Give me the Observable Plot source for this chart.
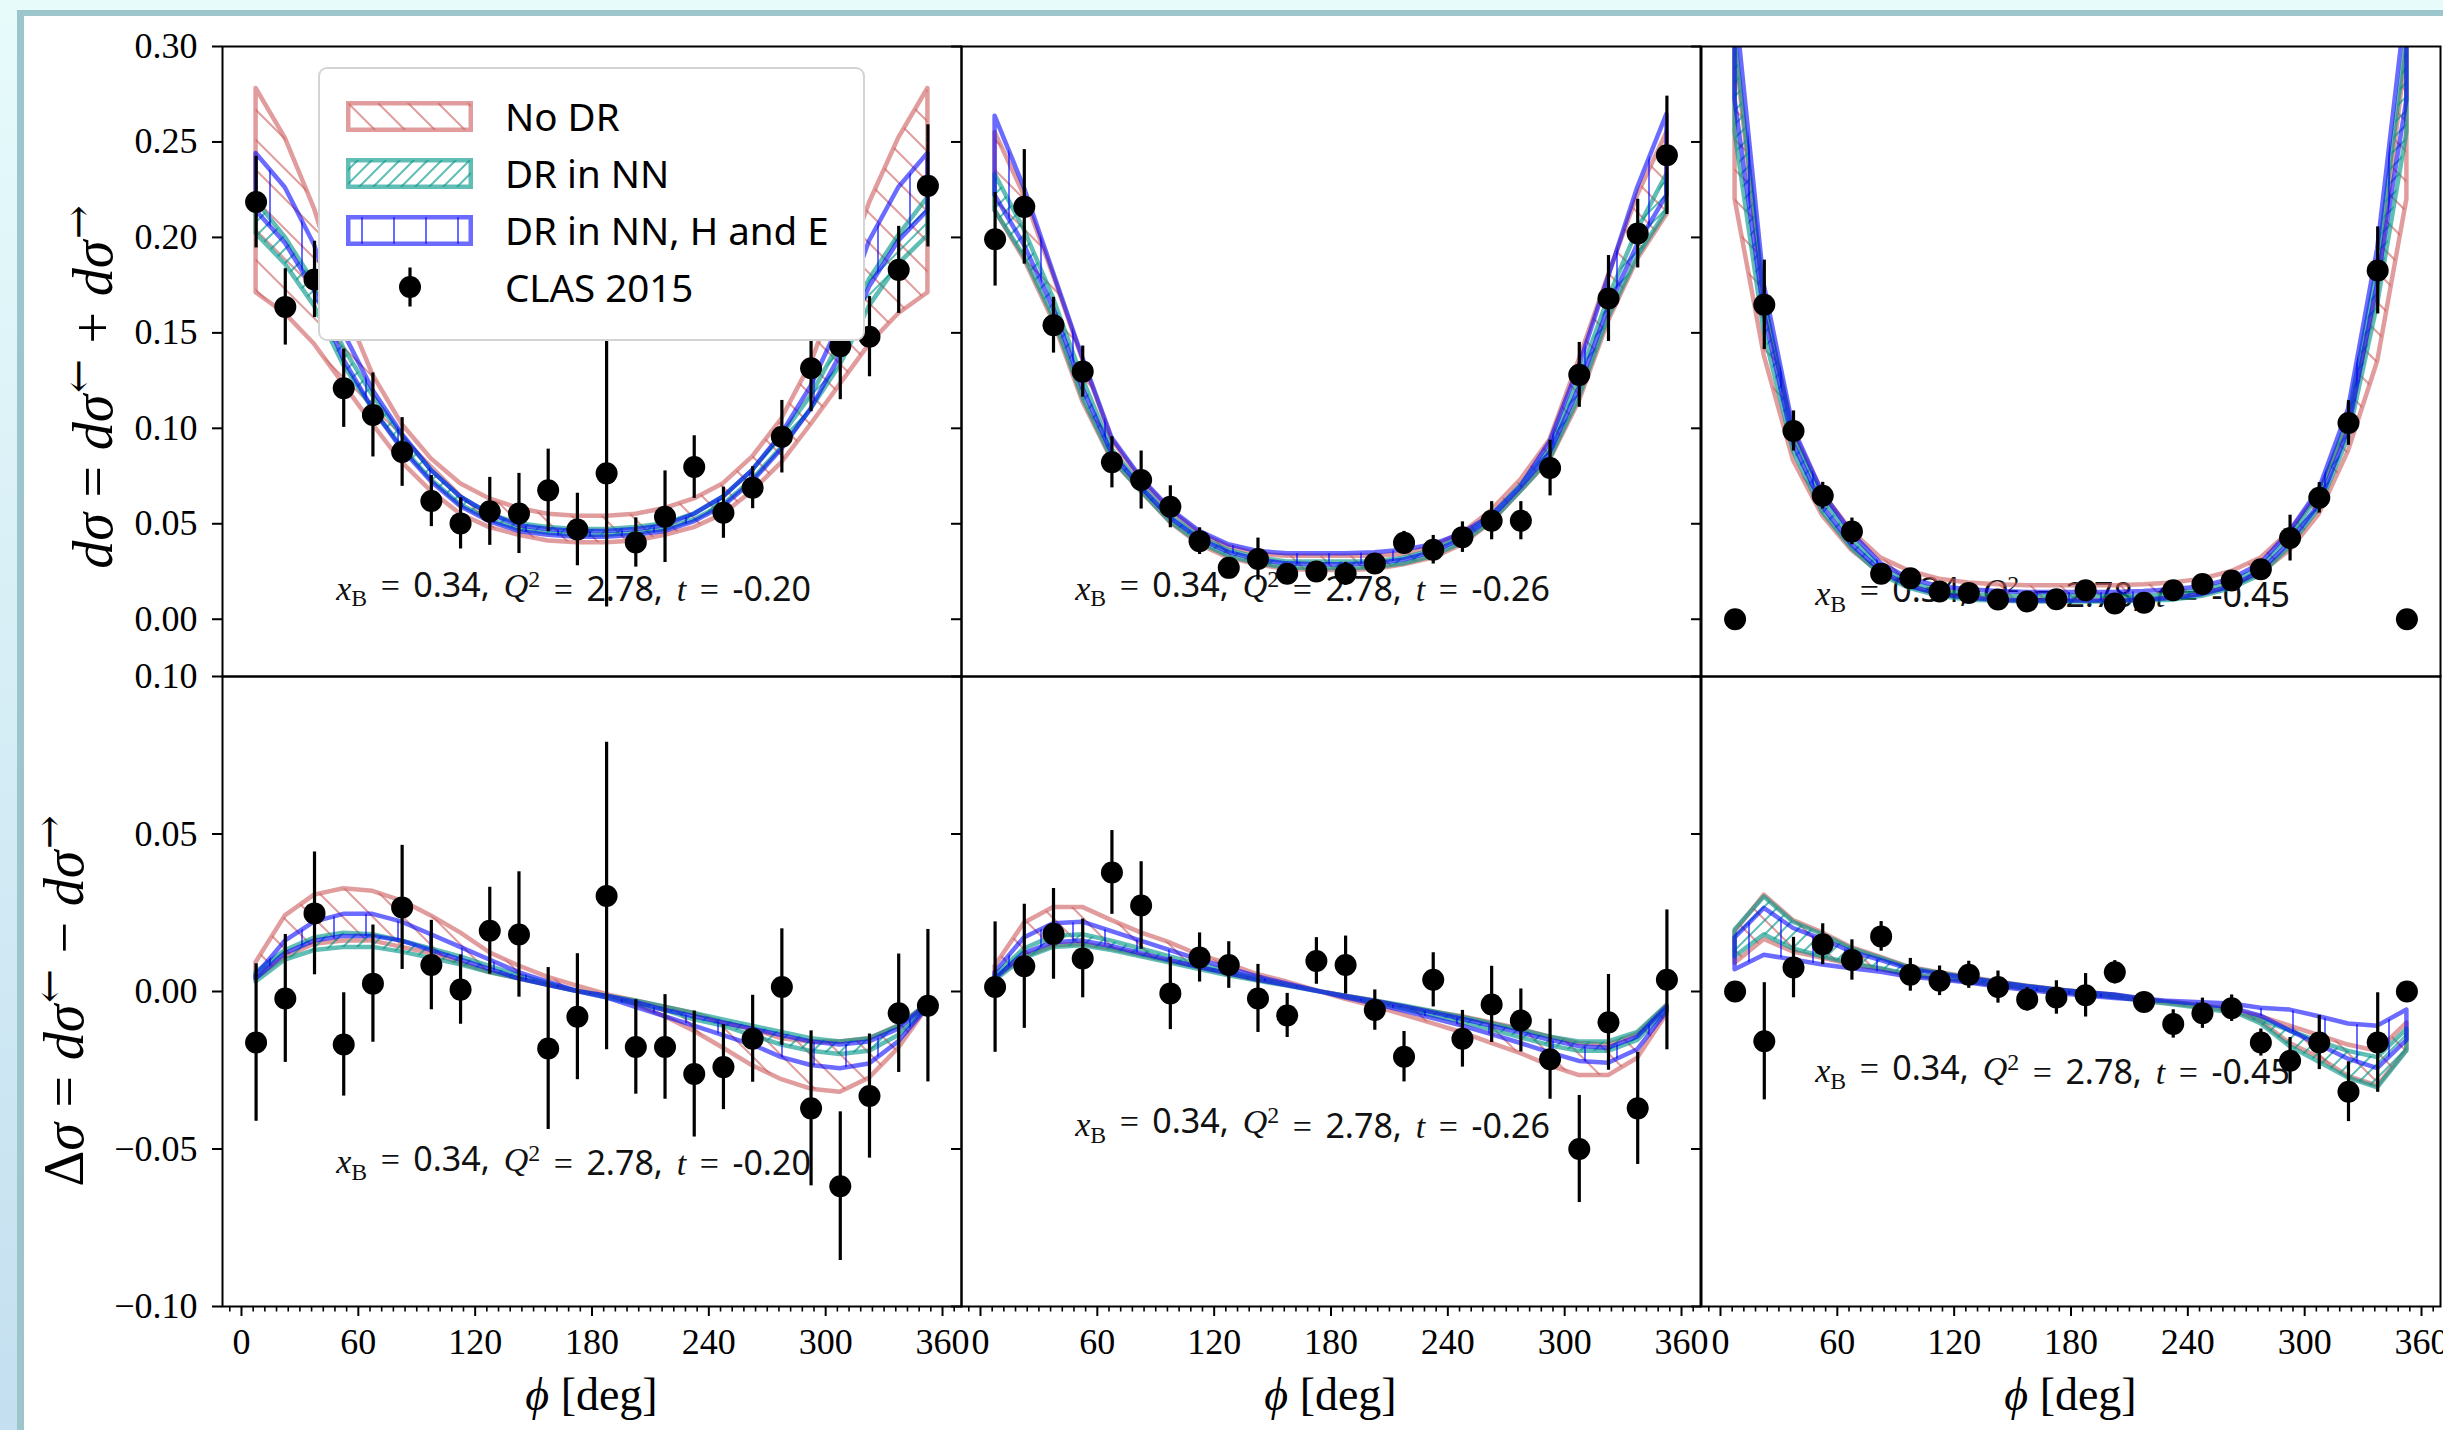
<!DOCTYPE html>
<html>
<head>
<meta charset="utf-8">
<script src="https://cdn.jsdelivr.net/npm/d3@7"></script>
<script src="https://cdn.jsdelivr.net/npm/@observablehq/plot@0.6"></script>
<style>
  html, body { margin: 0; padding: 0; }
  body { width: 2443px; height: 1430px; overflow: hidden; position: relative; background: #e7fbfb; font-family: "Liberation Serif", serif; color: #000; }
  #strip { position: absolute; left: 0; top: 0; width: 17px; height: 1430px; background: linear-gradient(#e7fbfb, #c4dff0); }
  #sheet { position: absolute; left: 17px; top: 10px; right: 0; bottom: 0; background: #fff; border-top: 6px solid #9dc5cc; border-left: 7px solid #9dc5cc; }
  .panel { position: absolute; width: 739px; height: 630px; z-index: 1; }
  .panel svg { overflow: visible; max-width: none; }
  .ylabel { position: absolute; transform: translate(-50%, -50%) rotate(-90deg); white-space: nowrap; font-size: 56px; line-height: 1; z-index: 2; }
  .xlabel { position: absolute; transform: translate(-50%, -50%); white-space: nowrap; font-size: 46px; line-height: 1; z-index: 2; }
  .ylabel sup { font-size: 0.72em; vertical-align: 0.5em; line-height: 0; font-family: "DejaVu Serif", serif; margin-left: 0.04em; }
  .ylabel .op { display: inline-block; margin: 0 0.28em; }
  #legend { position: absolute; left: 318px; top: 67px; width: 543px; height: 270px; background: #fff; border: 2px solid #d4d4d4; border-radius: 9px; z-index: 3; font-family: "Noto Sans", sans-serif; font-size: 38.5px; }
  .lrow { position: absolute; left: 0; height: 40px; display: flex; align-items: center; }
  .lrow svg { position: absolute; left: 26px; overflow: visible; }
  .lrow span { position: absolute; left: 185px; white-space: nowrap; line-height: 1; }
</style>
</head>
<body>
<svg width="0" height="0" style="position:absolute">
  <defs>
    <pattern id="hatch-nodr" patternUnits="userSpaceOnUse" width="30" height="30">
      <path d="M-5,-5 L35,35 M-5,25 L5,35 M25,-5 L35,5" stroke="rgb(205,92,92)" stroke-opacity="0.6" stroke-width="2" fill="none"/>
    </pattern>
    <pattern id="hatch-nn" patternUnits="userSpaceOnUse" width="14" height="14">
      <path d="M-3,17 L17,-3 M-3,3 L3,-3 M11,17 L17,11" stroke="rgb(0,150,136)" stroke-opacity="0.62" stroke-width="2" fill="none"/>
    </pattern>
    <pattern id="hatch-he" patternUnits="userSpaceOnUse" width="32" height="32">
      <path d="M16,0 V32" stroke="rgb(0,0,255)" stroke-opacity="0.58" stroke-width="2" fill="none"/>
    </pattern>
  </defs>
</svg>
<div id="strip"></div>
<div id="sheet"></div>
<div id="charts"></div>
<div id="legend"></div>
<script>
// Azimuthal bins of the CLAS 2015 DVCS measurement (degrees)
const phi = [7.5, 22.5, 37.5, 52.5, 67.5, 82.5, 97.5, 112.5, 127.5, 142.5, 157.5, 172.5,
             187.5, 202.5, 217.5, 232.5, 247.5, 262.5, 277.5, 292.5, 307.5, 322.5, 337.5, 352.5];

const xTicks = [0, 60, 120, 180, 240, 300, 360];
const sumTicks = [0, 0.05, 0.10, 0.15, 0.20, 0.25, 0.30];
const diffTicks = [-0.10, -0.05, 0, 0.05, 0.10];
const xBValue = 0.34;
const Q2Value = 2.78;
const tBins = [-0.20, -0.26, -0.45];

const modelNames = ["No DR", "DR in NN", "DR in NN, H and E"];
const modelColors = ["rgb(205,92,92)", "rgb(0,150,136)", "rgb(0,0,255)"];
const modelOpacity = [0.6, 0.62, 0.58];
const modelPatterns = ["hatch-nodr", "hatch-nn", "hatch-he"];

// ---- dσ = dσ← + dσ→ , t = -0.20
const sum020 = [0.2185, 0.1636, 0.178, 0.121, 0.107, 0.0876, 0.0619, 0.0502, 0.0565, 0.0554, 0.0675, 0.047,
                0.0764, 0.0402, 0.0537, 0.0797, 0.0558, 0.0689, 0.0956, 0.1315, 0.143, 0.148, 0.183, 0.227];
const sum020Err = [0.024, 0.020, 0.020, 0.0205, 0.022, 0.018, 0.0134, 0.0134, 0.0178, 0.021, 0.0216, 0.019,
                   0.070, 0.0129, 0.024, 0.0164, 0.0134, 0.011, 0.019, 0.0228, 0.028, 0.021, 0.0228, 0.032];
const sum020NoDRHi = [0.278, 0.252, 0.215, 0.165, 0.128, 0.102, 0.084, 0.071, 0.063, 0.058, 0.055, 0.054,
                      0.054, 0.055, 0.058, 0.063, 0.071, 0.085, 0.105, 0.134, 0.175, 0.218, 0.252, 0.278];
const sum020NoDRLo = [0.171, 0.160, 0.144, 0.123, 0.102, 0.082, 0.067, 0.055, 0.048, 0.044, 0.041, 0.040,
                      0.040, 0.041, 0.044, 0.048, 0.055, 0.067, 0.082, 0.102, 0.123, 0.144, 0.160, 0.171];
const sum020NNHi = [0.219, 0.200, 0.176, 0.142, 0.117, 0.096, 0.078, 0.064, 0.055, 0.050, 0.048, 0.047,
                    0.047, 0.048, 0.050, 0.055, 0.064, 0.078, 0.096, 0.117, 0.145, 0.178, 0.201, 0.221];
const sum020NNLo = [0.202, 0.186, 0.164, 0.133, 0.110, 0.090, 0.073, 0.060, 0.052, 0.047, 0.045, 0.044,
                    0.044, 0.045, 0.047, 0.052, 0.060, 0.073, 0.090, 0.110, 0.133, 0.164, 0.186, 0.201];
const sum020HEHi = [0.244, 0.226, 0.196, 0.150, 0.120, 0.097, 0.078, 0.064, 0.055, 0.049, 0.047, 0.046,
                    0.046, 0.047, 0.049, 0.055, 0.064, 0.078, 0.097, 0.122, 0.155, 0.198, 0.226, 0.244];
const sum020HELo = [0.214, 0.197, 0.172, 0.136, 0.110, 0.089, 0.072, 0.059, 0.051, 0.046, 0.044, 0.043,
                    0.043, 0.044, 0.046, 0.051, 0.059, 0.072, 0.089, 0.110, 0.138, 0.174, 0.198, 0.214];

// ---- dσ = dσ← + dσ→ , t = -0.26
const sum026 = [0.199, 0.216, 0.154, 0.1297, 0.0822, 0.0729, 0.0589, 0.0409, 0.0269, 0.0315, 0.0238, 0.025,
                0.0238, 0.0292, 0.040, 0.0364, 0.043, 0.0516, 0.0516, 0.0792, 0.128, 0.168, 0.202, 0.243];
const sum026Err = [0.0245, 0.030, 0.0146, 0.0134, 0.0134, 0.0152, 0.011, 0.007, 0.004, 0.011, 0.005, 0.005,
                   0.006, 0.005, 0.006, 0.0075, 0.008, 0.010, 0.010, 0.0146, 0.017, 0.0225, 0.018, 0.031];
const sum026NoDRHi = [0.255, 0.222, 0.180, 0.136, 0.094, 0.073, 0.057, 0.045, 0.038, 0.034, 0.033, 0.033,
                      0.033, 0.033, 0.034, 0.038, 0.045, 0.057, 0.073, 0.094, 0.136, 0.180, 0.222, 0.255];
const sum026NoDRLo = [0.214, 0.1885, 0.156, 0.114, 0.0834, 0.067, 0.0507, 0.039, 0.032, 0.0285, 0.026, 0.0255,
                      0.0255, 0.026, 0.0285, 0.032, 0.039, 0.0507, 0.067, 0.0834, 0.114, 0.156, 0.1885, 0.212];
const sum026NNHi = [0.233, 0.204, 0.168, 0.126, 0.089, 0.070, 0.054, 0.043, 0.036, 0.032, 0.030, 0.030,
                    0.030, 0.030, 0.032, 0.036, 0.043, 0.054, 0.070, 0.089, 0.126, 0.168, 0.204, 0.233];
const sum026NNLo = [0.214, 0.190, 0.158, 0.116, 0.084, 0.067, 0.051, 0.040, 0.033, 0.029, 0.027, 0.0265,
                    0.0265, 0.027, 0.029, 0.033, 0.040, 0.051, 0.067, 0.084, 0.116, 0.158, 0.190, 0.214];
const sum026HEHi = [0.2635, 0.226, 0.1815, 0.137, 0.095, 0.074, 0.0577, 0.046, 0.039, 0.0355, 0.0343, 0.0343,
                    0.0343, 0.0348, 0.0362, 0.039, 0.0449, 0.0542, 0.0694, 0.0928, 0.1325, 0.179, 0.226, 0.2645];
const sum026HELo = [0.222, 0.196, 0.163, 0.121, 0.087, 0.069, 0.053, 0.042, 0.035, 0.031, 0.029, 0.0285,
                    0.0285, 0.029, 0.031, 0.035, 0.042, 0.053, 0.069, 0.087, 0.121, 0.163, 0.196, 0.222];

// ---- dσ = dσ← + dσ→ , t = -0.45
const sum045 = [0.0, 0.1647, 0.0986, 0.0647, 0.046, 0.0238, 0.0215, 0.0145, 0.0138, 0.0103, 0.0093, 0.0105,
                0.0152, 0.0082, 0.0086, 0.0152, 0.0185, 0.0203, 0.0262, 0.0425, 0.0636, 0.1028, 0.1827, 0.0];
const sum045Err = [0, 0.0234, 0.0105, 0.007, 0.007, 0.003, 0.003, 0.003, 0.003, 0.003, 0.003, 0.003,
                   0.003, 0.003, 0.003, 0.003, 0.003, 0.004, 0.004, 0.012, 0.008, 0.0117, 0.0228, 0];
const sum045NoDRHi = [0.300, 0.165, 0.098, 0.066, 0.046, 0.032, 0.025, 0.021, 0.019, 0.018, 0.0175, 0.0175,
                      0.0175, 0.0175, 0.018, 0.019, 0.021, 0.025, 0.032, 0.046, 0.066, 0.102, 0.172, 0.300];
const sum045NoDRLo = [0.220, 0.138, 0.083, 0.054, 0.036, 0.024, 0.017, 0.013, 0.011, 0.010, 0.0095, 0.0095,
                      0.0095, 0.0095, 0.010, 0.011, 0.013, 0.017, 0.024, 0.036, 0.055, 0.088, 0.135, 0.220];
const sum045NNHi = [0.305, 0.168, 0.096, 0.063, 0.042, 0.027, 0.019, 0.015, 0.013, 0.012, 0.012, 0.012,
                    0.012, 0.012, 0.012, 0.013, 0.015, 0.019, 0.027, 0.043, 0.065, 0.105, 0.185, 0.305];
const sum045NNLo = [0.255, 0.150, 0.088, 0.056, 0.037, 0.023, 0.016, 0.012, 0.010, 0.0095, 0.009, 0.009,
                    0.009, 0.009, 0.0095, 0.010, 0.012, 0.016, 0.023, 0.038, 0.058, 0.095, 0.165, 0.255];
const sum045HEHi = [0.325, 0.175, 0.100, 0.066, 0.045, 0.029, 0.021, 0.017, 0.0155, 0.0145, 0.014, 0.014,
                    0.014, 0.014, 0.0145, 0.0155, 0.017, 0.021, 0.029, 0.046, 0.068, 0.110, 0.194, 0.325];
const sum045HELo = [0.272, 0.160, 0.092, 0.059, 0.039, 0.025, 0.017, 0.013, 0.011, 0.010, 0.0095, 0.0095,
                    0.0095, 0.0095, 0.010, 0.011, 0.013, 0.017, 0.025, 0.040, 0.060, 0.099, 0.176, 0.272];

// ---- Δσ = dσ← − dσ→ , t = -0.20
const diff020 = [-0.0162, -0.0022, 0.0248, -0.0168, 0.0025, 0.0267, 0.0084, 0.0006, 0.0193, 0.0181, -0.0181, -0.008,
                 0.0303, -0.0176, -0.0176, -0.0262, -0.024, -0.015, 0.0014, -0.0371, -0.0618, -0.0332, -0.0069, -0.0045];
const diff020Err = [0.025, 0.0203, 0.0195, 0.0164, 0.0186, 0.0197, 0.0142, 0.011, 0.0138, 0.0199, 0.0257, 0.020,
                    0.0488, 0.015, 0.0166, 0.020, 0.0135, 0.0138, 0.0185, 0.0246, 0.0236, 0.0197, 0.0188, 0.0242];
const diff020NoDRA = [0.0092, 0.024, 0.0306, 0.0326, 0.0318, 0.0287, 0.024, 0.0186, 0.0123, 0.0081, 0.0045, 0.0017,
                      -0.0009, -0.004, -0.008, -0.0126, -0.018, -0.0236, -0.028, -0.031, -0.032, -0.0275, -0.018, -0.005];
const diff020NoDRB = [0.004, 0.011, 0.015, 0.016, 0.016, 0.014, 0.012, 0.009, 0.006, 0.004, 0.002, 0.000,
                      -0.001, -0.003, -0.005, -0.007, -0.010, -0.012, -0.015, -0.016, -0.016, -0.015, -0.011, -0.004];
const diff020NNA = [0.006, 0.013, 0.017, 0.0185, 0.018, 0.016, 0.0135, 0.011, 0.008, 0.005, 0.0025, 0.0,
                    -0.002, -0.004, -0.006, -0.009, -0.011, -0.014, -0.017, -0.019, -0.020, -0.019, -0.014, -0.005];
const diff020NNB = [0.003, 0.010, 0.013, 0.014, 0.014, 0.0125, 0.0105, 0.0085, 0.006, 0.004, 0.002, 0.0,
                    -0.0015, -0.003, -0.005, -0.007, -0.009, -0.011, -0.013, -0.015, -0.016, -0.015, -0.011, -0.004];
const diff020HEA = [0.005, 0.016, 0.022, 0.0245, 0.0245, 0.022, 0.018, 0.014, 0.010, 0.006, 0.003, 0.0,
                    -0.002, -0.005, -0.008, -0.011, -0.014, -0.017, -0.021, -0.0235, -0.0245, -0.023, -0.016, -0.005];
const diff020HEB = [0.004, 0.012, 0.016, 0.0175, 0.0175, 0.016, 0.013, 0.010, 0.007, 0.004, 0.002, 0.0,
                    -0.0015, -0.0035, -0.006, -0.008, -0.010, -0.012, -0.014, -0.016, -0.017, -0.016, -0.012, -0.004];

// ---- Δσ = dσ← − dσ→ , t = -0.26
const diff026 = [0.0014, 0.008, 0.0183, 0.0105, 0.0378, 0.0273, -0.0006, 0.0108, 0.0084, -0.0022, -0.0076, 0.0097,
                 0.0084, -0.0059, -0.0207, 0.0037, -0.015, -0.0041, -0.0092, -0.0215, -0.050, -0.0098, -0.0371, 0.0037];
const diff026Err = [0.0207, 0.0197, 0.0144, 0.0125, 0.0133, 0.0139, 0.0115, 0.0078, 0.0074, 0.0108, 0.007, 0.0074,
                    0.0092, 0.0064, 0.008, 0.0086, 0.009, 0.0121, 0.010, 0.0127, 0.017, 0.0152, 0.0178, 0.0222];
const diff026NoDRA = [0.008, 0.0217, 0.0267, 0.0267, 0.0225, 0.0186, 0.0154, 0.0115, 0.0087, 0.0053, 0.003, 0.0003,
                      -0.0025, -0.0048, -0.0075, -0.0103, -0.0131, -0.0165, -0.0197, -0.0236, -0.0267, -0.0267, -0.0212, -0.0072];
const diff026NoDRB = [0.004, 0.011, 0.0145, 0.015, 0.0135, 0.0115, 0.0095, 0.0075, 0.0055, 0.0035, 0.002, 0.0002,
                      -0.0015, -0.003, -0.0048, -0.0065, -0.008, -0.010, -0.012, -0.0145, -0.0165, -0.017, -0.0135, -0.0045];
const diff026NNA = [0.005, 0.0135, 0.0175, 0.018, 0.016, 0.0135, 0.011, 0.0085, 0.0063, 0.004, 0.002, 0.0002,
                    -0.0018, -0.0036, -0.0056, -0.0077, -0.0098, -0.0122, -0.0147, -0.0172, -0.019, -0.019, -0.0155, -0.006];
const diff026NNB = [0.0035, 0.0105, 0.014, 0.0145, 0.013, 0.011, 0.009, 0.007, 0.005, 0.0033, 0.0017, 0.0001,
                    -0.0015, -0.003, -0.0046, -0.0064, -0.0082, -0.0102, -0.0123, -0.0145, -0.016, -0.016, -0.013, -0.0045];
const diff026HEA = [0.006, 0.017, 0.0215, 0.022, 0.019, 0.016, 0.013, 0.010, 0.0073, 0.0046, 0.0024, 0.0002,
                    -0.002, -0.004, -0.0062, -0.0086, -0.011, -0.0137, -0.0165, -0.0195, -0.0222, -0.0228, -0.0185, -0.0065];
const diff026HEB = [0.004, 0.012, 0.0155, 0.016, 0.0143, 0.012, 0.0098, 0.0076, 0.0056, 0.0036, 0.0019, 0.0001,
                    -0.0016, -0.0032, -0.0049, -0.0068, -0.0088, -0.011, -0.0132, -0.0155, -0.0175, -0.018, -0.0145, -0.005];

// ---- Δσ = dσ← − dσ→ , t = -0.45
const diff045 = [0.0, -0.0158, 0.0076, 0.015, 0.010, 0.0175, 0.0053, 0.0034, 0.0053, 0.0014, -0.0025, -0.0019,
                 -0.0012, 0.0061, -0.0033, -0.0103, -0.0069, -0.0053, -0.0162, -0.022, -0.0162, -0.0318, -0.0162, 0.0];
const diff045Err = [0, 0.0186, 0.0096, 0.0065, 0.0064, 0.0047, 0.0052, 0.0047, 0.0043, 0.0051, 0.0037, 0.0053,
                    0.0069, 0.0037, 0.002, 0.0045, 0.0048, 0.0042, 0.0043, 0.0074, 0.0086, 0.0095, 0.0158, 0];
const diff045NoDRA = [0.019, 0.0306, 0.0225, 0.0186, 0.0139, 0.0108, 0.0076, 0.006, 0.0045, 0.003, 0.0017, 0.0006,
                      -0.0003, -0.0012, -0.0025, -0.0035, -0.0045, -0.0058, -0.0095, -0.0165, -0.021, -0.027, -0.030, -0.0185];
const diff045NoDRB = [0.009, 0.0165, 0.0125, 0.0105, 0.0085, 0.007, 0.005, 0.0042, 0.003, 0.0018, 0.0008, -0.0002,
                      -0.0009, -0.0018, -0.003, -0.004, -0.005, -0.0062, -0.008, -0.011, -0.014, -0.017, -0.019, -0.010];
const diff045NNA = [0.0195, 0.030, 0.022, 0.018, 0.0135, 0.0105, 0.0074, 0.0058, 0.0043, 0.0029, 0.0016, 0.0005,
                    -0.0004, -0.0013, -0.0027, -0.0037, -0.0048, -0.0062, -0.0102, -0.0175, -0.0225, -0.0275, -0.0306, -0.0189];
const diff045NNB = [0.011, 0.018, 0.0135, 0.011, 0.0088, 0.0072, 0.0052, 0.0043, 0.0031, 0.0019, 0.0009, -0.0001,
                    -0.001, -0.0019, -0.0031, -0.0042, -0.0054, -0.0068, -0.009, -0.0125, -0.016, -0.019, -0.021, -0.012];
const diff045HEA = [0.017, 0.0264, 0.020, 0.0165, 0.0125, 0.0098, 0.007, 0.0055, 0.0041, 0.0028, 0.0015, 0.0005,
                    -0.0004, -0.0011, -0.0024, -0.0033, -0.0041, -0.0052, -0.0078, -0.0125, -0.017, -0.0215, -0.0245, -0.0155];
const diff045HEB = [0.0069, 0.0115, 0.010, 0.0084, 0.0072, 0.0061, 0.0045, 0.0037, 0.0027, 0.0014, 0.0003, -0.0006,
                    -0.0014, -0.0022, -0.0028, -0.0032, -0.0036, -0.004, -0.0053, -0.0059, -0.008, -0.0103, -0.011, -0.0059];

// Vertical position of the kinematics note in each panel (data units)
const noteYSum = [0.016, 0.016, 0.013];
const noteYDiff = [-0.0543, -0.0425, -0.0254];
const noteX = 170.5;

// ---- layout of the 2 x 3 grid (page pixels)
const colLeft = [222, 961, 1701];
const rowTop = [46, 676];
const panelW = 739, panelH = 630;
const xDomain = [-9.75, 369.75];
const xMinorTicks = d3.range(-6, 370, 6).filter(d => d % 60 !== 0);

const panels = [
  {row: 0, col: 0, obs: sum020, err: sum020Err, bands: [[sum020NoDRHi, sum020NoDRLo], [sum020NNHi, sum020NNLo], [sum020HEHi, sum020HELo]], t: tBins[0], noteY: noteYSum[0]},
  {row: 0, col: 1, obs: sum026, err: sum026Err, bands: [[sum026NoDRHi, sum026NoDRLo], [sum026NNHi, sum026NNLo], [sum026HEHi, sum026HELo]], t: tBins[1], noteY: noteYSum[1]},
  {row: 0, col: 2, obs: sum045, err: sum045Err, bands: [[sum045NoDRHi, sum045NoDRLo], [sum045NNHi, sum045NNLo], [sum045HEHi, sum045HELo]], t: tBins[2], noteY: noteYSum[2]},
  {row: 1, col: 0, obs: diff020, err: diff020Err, bands: [[diff020NoDRA, diff020NoDRB], [diff020NNA, diff020NNB], [diff020HEA, diff020HEB]], t: tBins[0], noteY: noteYDiff[0]},
  {row: 1, col: 1, obs: diff026, err: diff026Err, bands: [[diff026NoDRA, diff026NoDRB], [diff026NNA, diff026NNB], [diff026HEA, diff026HEB]], t: tBins[1], noteY: noteYDiff[1]},
  {row: 1, col: 2, obs: diff045, err: diff045Err, bands: [[diff045NoDRA, diff045NoDRB], [diff045NNA, diff045NNB], [diff045HEA, diff045HEB]], t: tBins[2], noteY: noteYDiff[2]}
];

const tickFmt = d => (d < 0 ? "\u2212" : "") + Math.abs(d).toFixed(2);
const SVGNS = "http://www.w3.org/2000/svg";

// Rebuild the kinematics note with math italics, subscript and superscript
function richNote(svg, t) {
  const el = svg.querySelector('g[aria-label="text"] text');
  if (!el) return;
  while (el.firstChild) el.removeChild(el.firstChild);
  el.setAttribute("word-spacing", "5");
  const serif = '"Liberation Serif", serif';
  const sans = '"Noto Sans", sans-serif';
  const parts = [
    {s: "x", font: serif, italic: true},
    {s: "B", font: serif, size: "0.7em", dy: "0.28em"},
    {s: " = ", font: serif, dy: "-0.28em"},
    {s: xBValue.toFixed(2) + ", ", font: sans},
    {s: "Q", font: serif, italic: true},
    {s: "2", font: serif, size: "0.7em", dy: "-0.42em"},
    {s: " = ", font: serif, dy: "0.42em"},
    {s: Q2Value.toFixed(2) + ", ", font: sans},
    {s: "t", font: serif, italic: true},
    {s: " = ", font: serif},
    {s: t.toFixed(2), font: sans}
  ];
  for (const p of parts) {
    const ts = document.createElementNS(SVGNS, "tspan");
    ts.setAttribute("font-family", p.font);
    if (p.italic) ts.setAttribute("font-style", "italic");
    if (p.size) ts.setAttribute("font-size", p.size);
    if (p.dy) ts.setAttribute("dy", p.dy);
    ts.textContent = p.s;
    el.appendChild(ts);
  }
}

const charts = document.getElementById("charts");

for (const p of panels) {
  const isSum = p.row === 0;
  const rows = phi.map((x, i) => ({phi: x, v: p.obs[i], e: p.err[i]}));
  const bandMarks = p.bands.map(([a, b], k) =>
    Plot.areaY(phi.map((x, i) => ({phi: x, a: a[i], b: b[i]})), {
      x: "phi", y1: "b", y2: "a",
      fill: `url(#${modelPatterns[k]})`,
      stroke: modelColors[k], strokeOpacity: modelOpacity[k], strokeWidth: 4.5,
      strokeLinejoin: "round", clip: true
    })
  );
  const noteText = `xB = ${xBValue.toFixed(2)}, Q2 = ${Q2Value.toFixed(2)}, t = ${p.t.toFixed(2)}`;
  const marks = [
    Plot.text([{x: noteX, y: p.noteY}], {x: "x", y: "y", text: () => noteText, textAnchor: "middle", lineAnchor: "middle", fontSize: 34, fill: "#111"}),
    ...bandMarks,
    Plot.ruleX(rows.filter(d => d.e > 0), {x: "phi", y1: d => d.v - d.e, y2: d => d.v + d.e, stroke: "black", strokeWidth: 3.2, clip: true}),
    Plot.dot(rows, {x: "phi", y: "v", r: 11, fill: "black", stroke: "none", clip: true}),
    Plot.frame({stroke: "black", strokeWidth: 2}),
    Plot.axisY(isSum ? sumTicks : diffTicks, {
      anchor: "left", tickSize: 10, tickPadding: 15, strokeWidth: 2, fontSize: 36, label: null,
      tickFormat: p.col === 0 ? tickFmt : () => ""
    })
  ];
  if (!isSum) {
    marks.push(
      Plot.axisX(xMinorTicks, {anchor: "bottom", tickSize: 5.5, strokeWidth: 1.6, label: null, tickFormat: () => ""}),
      Plot.axisX(xTicks, {anchor: "bottom", tickSize: 10, tickPadding: 12, strokeWidth: 2, fontSize: 36, label: null, tickFormat: d => `${d}`})
    );
  }
  const svg = Plot.plot({
    width: panelW, height: panelH, margin: 0,
    x: {domain: xDomain, axis: null, label: null},
    y: {domain: isSum ? [-0.03, 0.30] : [-0.10, 0.10], axis: null, label: null},
    style: {overflow: "visible", maxWidth: "none", fontFamily: '"Liberation Serif", serif', color: "black", background: "transparent"},
    marks
  });
  richNote(svg, p.t);
  const holder = document.createElement("div");
  holder.className = "panel";
  holder.style.left = colLeft[p.col] + "px";
  holder.style.top = rowTop[p.row] + "px";
  holder.appendChild(svg);
  charts.appendChild(holder);
}

// Axis titles
function addLabel(cls, html, x, y) {
  const d = document.createElement("div");
  d.className = cls;
  d.innerHTML = html;
  d.style.left = x + "px";
  d.style.top = y + "px";
  document.body.appendChild(d);
}
addLabel("ylabel", "<i>d\u03c3</i><span class=\"op\">=</span><i>d\u03c3</i><sup>\u2190</sup><span class=\"op\">+</span><i>d\u03c3</i><sup>\u2192</sup>", 93, rowTop[0] + panelH / 2 + 26);
addLabel("ylabel", "\u0394<i>\u03c3</i><span class=\"op\">=</span><i>d\u03c3</i><sup>\u2190</sup><span class=\"op\">\u2212</span><i>d\u03c3</i><sup>\u2192</sup>", 64, rowTop[1] + panelH / 2 + 10);
for (const c of colLeft) addLabel("xlabel", "<i>\u03d5</i> [deg]", c + panelW / 2, 1395);

// Legend
const legend = document.getElementById("legend");
const rowCenters = [47, 104, 161, 218];
modelNames.forEach((name, k) => {
  const r = document.createElement("div");
  r.className = "lrow";
  r.style.top = (rowCenters[k] - 20) + "px";
  r.innerHTML = `<svg width="127" height="31" style="top:4.5px"><rect x="2.25" y="2.25" width="122.5" height="26.5" fill="url(#${modelPatterns[k]})" stroke="${modelColors[k]}" stroke-opacity="${modelOpacity[k]}" stroke-width="4.5"/></svg><span>${name}</span>`;
  legend.appendChild(r);
});
{
  const r = document.createElement("div");
  r.className = "lrow";
  r.style.top = (rowCenters[3] - 20) + "px";
  r.innerHTML = `<svg width="127" height="40" style="top:0"><line x1="64" x2="64" y1="0.5" y2="39.5" stroke="black" stroke-width="3.2"/><circle cx="64" cy="20" r="11" fill="black"/></svg><span>CLAS 2015</span>`;
  legend.appendChild(r);
}
</script>
</body>
</html>
